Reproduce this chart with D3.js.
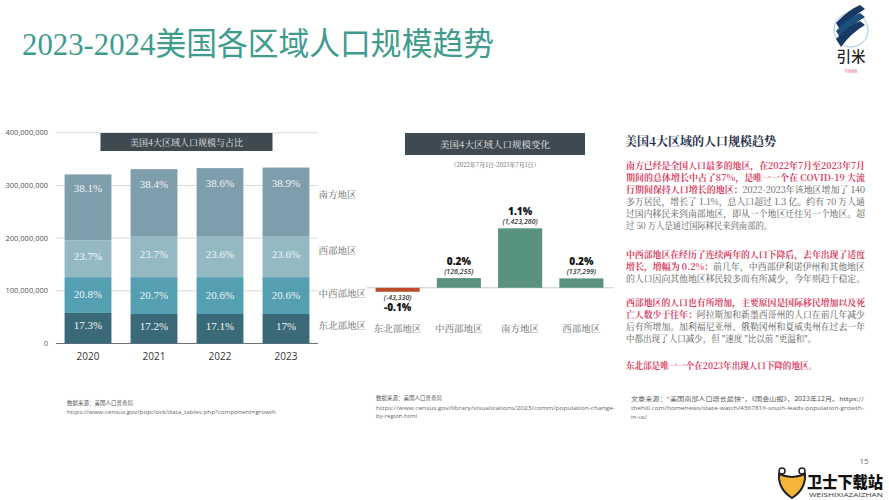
<!DOCTYPE html>
<html><head><meta charset="utf-8">
<script src="https://cdn.jsdelivr.net/npm/d3@7"></script>
<style>html,body{margin:0;padding:0;background:#fff}svg{display:block}</style>
</head><body><svg id="c" width="889" height="500"></svg>
<script>
const years=["2020","2021","2022","2023"];
const regionNames=["东北部地区","中西部地区","西部地区","南方地区"];
const northeast=[58,56,56,56];
const midwest=[68,70,70,70];
const west=[70,78,78,78];
const south=[125,127,129,130];
const shareLabels=[["17.3%","17.2%","17.1%","17%"],["20.8%","20.7%","20.6%","20.6%"],["23.7%","23.7%","23.6%","23.6%"],["38.1%","38.4%","38.6%","38.9%"]];
const stackColors=["#3a6a78","#549fb1","#95b9c3","#7f9eac"];
const yTicks=[0,100,200,300,400];
const changeRegions=["东北部地区","中西部地区","南方地区","西部地区"];
const changeBars=[-95000,232000,1423260,225000];
const changePct=["-0.1%","0.2%","1.1%","0.2%"];
const changeCount=["(-43,330)","(126,255)","(1,423,260)","(137,299)"];
const SONG="'Noto Serif CJK SC','Noto Sans CJK SC',serif";
const svg=d3.select("#c");
const T=(x,y,s,size,fill,opt={})=>svg.append("text").attr("x",x).attr("y",y).text(s)
 .attr("font-size",size).attr("fill",fill).attr("font-family",opt.f||"'Noto Sans CJK SC',sans-serif")
 .attr("text-anchor",opt.a||"start").attr("font-weight",opt.w||400).attr("font-style",opt.s||"normal")
 .attr("textLength",opt.l||null).attr("lengthAdjust",opt.l?"spacingAndGlyphs":null);

T(22,55,"2023-2024美国各区域人口规模趋势",32,"#3f9c8d",{f:"'Liberation Serif','Noto Sans CJK SC',serif",l:472});

// Stacked bars
const x1=d3.scaleBand().domain(years).range([56,318]).paddingInner(0.29).paddingOuter(0.13);
const y1=d3.scaleLinear().domain([0,400]).range([343.5,132.8]);
const g1=svg.append("g");
g1.append("g").selectAll("line").data(yTicks).join("line").attr("x1",56).attr("x2",318)
 .attr("y1",d=>y1(d)).attr("y2",d=>y1(d)).attr("stroke",d=>d?"#dcdcdc":"#6d7478").attr("stroke-width",d=>d?1:1.2);
yTicks.forEach(d=>T(48,y1(d)+2.5,d?d3.format(",")(d*1e6):"0",7.5,"#555",{f:"'Open Sans',sans-serif",a:"end"}));
const stack=d3.stack().keys([0,1,2,3]).value((r,k)=>r[k])(years.map((_,i)=>[northeast[i],midwest[i],west[i],south[i]]));
stack.forEach((s,k)=>{
 g1.append("g").selectAll("rect").data(s).join("rect").attr("x",(d,i)=>x1(years[i])).attr("width",x1.bandwidth())
  .attr("y",d=>y1(d[1])).attr("height",d=>y1(d[0])-y1(d[1])).attr("fill",stackColors[k]);
 s.forEach((d,i)=>T(x1(years[i])+x1.bandwidth()/2,(y1(d[0])+y1(d[1]))/2+(k==3?-15:k==0?1:k==2?1:3),shareLabels[k][i],11,"#eef4f5",{f:"'Liberation Serif',serif",a:"middle"}));
 const labelY=[329,297,254,198][k];
 T(318.5,labelY,regionNames[k],9.5,"#666",{f:SONG});
});
years.forEach(y=>T(x1(y)+x1.bandwidth()/2,360,y,10,"#333",{f:"'Open Sans',sans-serif",a:"middle"}));
svg.append("rect").attr("x",100.5).attr("y",133).attr("width",172).attr("height",18).attr("fill","#3f4951");
T(186.5,146,"美国4大区域人口规模与占比",9,"#e6e8ea",{f:SONG,a:"middle"});
T(67,405,"数据来源：美国人口普查局",5.5,"#555");
T(67,413.5,"https://www.census.gov/popclock/data_tables.php?component=growth",6,"#666",{f:"'Open Sans',sans-serif",l:209});

// Change bars
const x2=d3.scaleBand().domain(changeRegions).range([367,612]).paddingInner(0.28).paddingOuter(0.14);
const y2=d3.scaleLinear().domain([0,1423260]).range([287.8,228.3]);
svg.append("line").attr("x1",367).attr("x2",614).attr("y1",y2(0)).attr("y2",y2(0)).attr("stroke","#c9c9c9");
svg.append("g").selectAll("rect").data(changeBars).join("rect").attr("x",(d,i)=>x2(changeRegions[i])).attr("width",x2.bandwidth())
 .attr("y",d=>d<0?y2(0):y2(d)).attr("height",d=>Math.abs(y2(d)-y2(0))).attr("fill",d=>d<0?"#bb4d2a":"#5a9281");
changeRegions.forEach((r,i)=>{
 const cx=x2(r)+x2.bandwidth()/2, v=changeBars[i];
 if(v<0){
  T(cx,300,changeCount[i],7,"#333",{f:"'Open Sans',sans-serif",a:"middle",s:"italic",w:600});
  T(cx,311,changePct[i],10,"#111",{f:"'Open Sans',sans-serif",a:"middle",w:800});
 }else{
  T(cx,y2(v)-4,changeCount[i],7,"#333",{f:"'Open Sans',sans-serif",a:"middle",s:"italic",w:600});
  T(cx,y2(v)-13,changePct[i],10,"#111",{f:"'Open Sans',sans-serif",a:"middle",w:800});
 }
 T(cx,332,r,9.5,"#666",{f:SONG,a:"middle"});
});
svg.append("rect").attr("x",405).attr("y",133).attr("width",180).attr("height",22).attr("fill","#3f4951");
T(495,148,"美国4大区域人口规模变化",9.5,"#e6e8ea",{f:SONG,a:"middle"});
T(495,166.5,"（2022年7月1日-2023年7月1日）",6,"#555",{f:SONG,a:"middle"});
T(376,400,"数据来源：美国人口普查局",5.5,"#555");
T(376,409.5,"https://www.census.gov/library/visualizations/2023/comm/population-change-",6,"#666",{f:"'Open Sans',sans-serif",l:239});
T(376,418,"by-region.html",6,"#666",{f:"'Open Sans',sans-serif"});

// Right column
T(625,146,"美国4大区域的人口规模趋势",12,"#1d2d4a",{f:SONG,w:700});
const RED="#d8405f",GR="#555";
const lines=[
 [169,[["南方已经是全国人口最多的地区，在2022年7月至2023年7月",RED,1]],239],
 [181,[["期间的总体增长中占了87%，是唯一一个在 COVID-19 大流",RED,1]],239],
 [193,[["行期间保持人口增长的地区：",RED,1],["2022-2023年该地区增加了 140",GR,0]],239],
 [205,[["多万居民，增长了 1.1%，总人口超过 1.3 亿。约有 70 万人通",GR,0]],239],
 [217,[["过国内移民来到南部地区，即从一个地区迁往另一个地区。超",GR,0]],239],
 [229,[["过 50 万人是通过国际移民来到南部的。",GR,0]],146],
 [258,[["中西部地区在经历了连续两年的人口下降后，去年出现了适度",RED,1]],239],
 [270,[["增长，增幅为 0.2%：",RED,1],["前几年，中西部伊利诺伊州和其他地区",GR,0]],239],
 [282,[["的人口因向其他地区移民较多而有所减少，今年则趋于稳定。",GR,0]],239],
 [306,[["西部地区的人口也有所增加，主要原因是国际移民增加以及死",RED,1]],239],
 [318,[["亡人数少于往年：",RED,1],["阿拉斯加和新墨西哥州的人口在前几年减少",GR,0]],239],
 [330,[["后有所增加。加利福尼亚州、俄勒冈州和夏威夷州在过去一年",GR,0]],239],
 [342,[["中都出现了人口减少，但 \"速度 \"比以前 \"更温和\"。",GR,0]],190],
 [369,[["东北部是唯一一个在2023年出现人口下降的地区。",RED,1]],191]
];
lines.forEach(([y,parts,len])=>{
 const t=svg.append("text").attr("x",626).attr("y",y).attr("font-size",8.6).attr("font-family",SONG).attr("textLength",len).attr("lengthAdjust","spacingAndGlyphs");
 parts.forEach(([s,c,b])=>t.append("tspan").text(s).attr("fill",c).attr("font-weight",b?700:400));
});
T(631,401,"文章来源：\"美国南部人口增长最快\"，《国会山报》，2023年12月。https://",5.5,"#555",{l:233});
T(631,410,"thehill.com/homenews/state-watch/4367816-south-leads-population-growth-",6,"#666",{f:"'Open Sans',sans-serif",l:233});
T(631,418.5,"in-us/",6,"#666",{f:"'Open Sans',sans-serif"});

// Logo
const logo=svg.append("g").attr("transform","translate(851,30)");
logo.append("circle").attr("r",17).attr("fill","#fff").attr("stroke","#9fc4d8").attr("stroke-width",1);
[-10,-2,6].forEach((d,i)=>logo.append("path").attr("d",`M-15,${d+3} Q-3,${d-10} 9,${d-15} L14,${d-11} Q0,${d-3} -10,${d+11} Z`).attr("fill",i==1?"#1d4f7c":"#163a63"));
T(851,62,"引米",14.5,"#222",{a:"middle",w:500});
T(851,73,"YINMI",4.5,"#d56",{a:"middle",f:"'Open Sans',sans-serif"});
T(864,464,"15",8,"#666",{a:"middle",f:"'Open Sans',sans-serif"});

// Watermark
const wm=svg.append("g").attr("transform","translate(792,483)");
wm.append("path").attr("d","M-13,-9 Q0,-3 13,-9 Q14,6 0,15 Q-14,6 -13,-9 Z").attr("fill","#f5b53a").attr("stroke","#222").attr("stroke-width",2);
wm.append("circle").attr("cx",-10).attr("cy",-12).attr("r",3).attr("fill","#fff").attr("stroke","#222").attr("stroke-width",1.5);
wm.append("circle").attr("cx",10).attr("cy",-12).attr("r",3).attr("fill","#fff").attr("stroke","#222").attr("stroke-width",1.5);
T(807,488,"卫士下载站",16,"#111",{w:900,l:76});
T(809,497,"WEISHIXIAZAIZHAN",5,"#333",{f:"'Open Sans',sans-serif",l:74});
</script></body></html>
